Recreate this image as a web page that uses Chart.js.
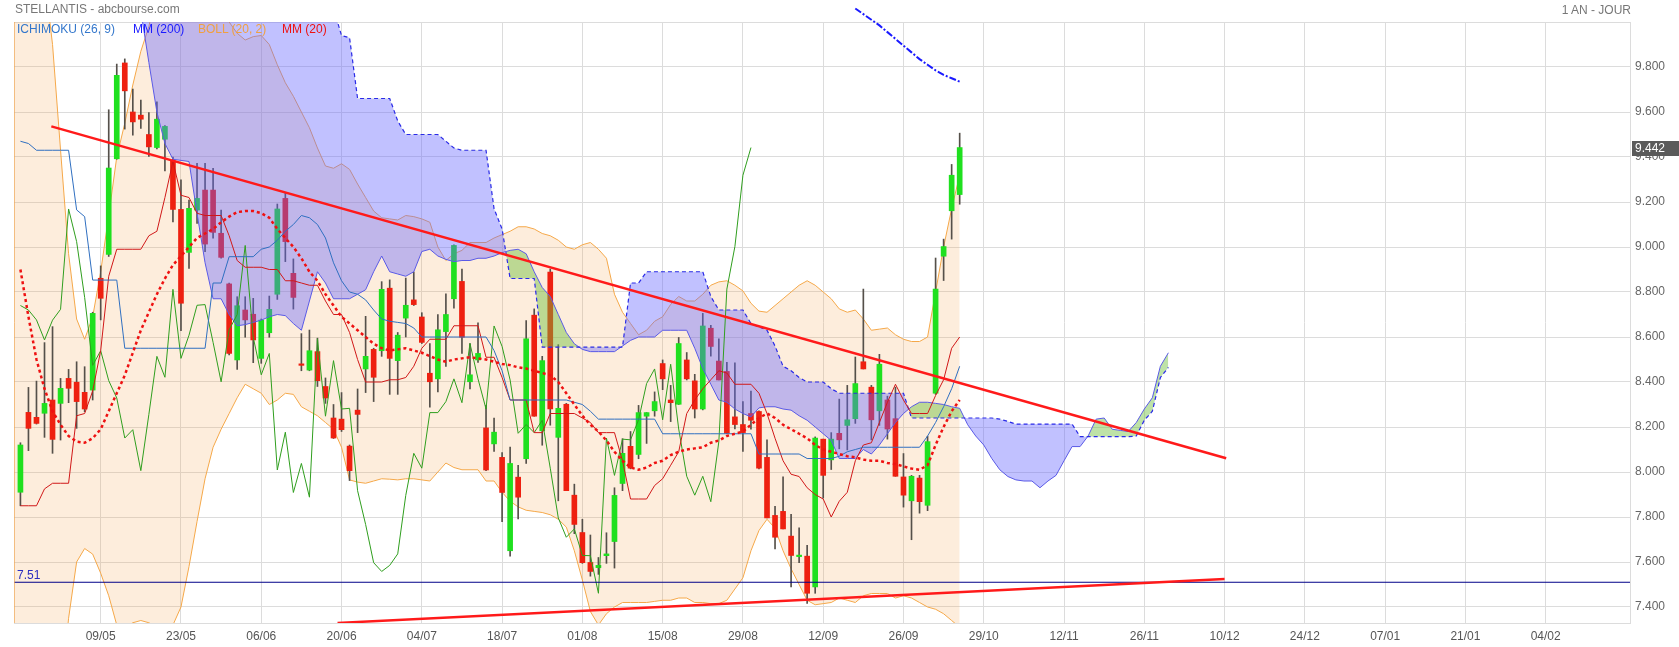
<!DOCTYPE html>
<html>
<head>
<meta charset="utf-8">
<title>STELLANTIS - abcbourse.com</title>
<script src="https://cdn.jsdelivr.net/npm/chart.js@4.4.1/dist/chart.umd.min.js"></script>
<style>
  html, body { margin: 0; padding: 0; background: #fff; }
  #wrap { position: relative; width: 1679px; height: 647px; font-family: 'Liberation Sans', Arial, sans-serif; font-size: 12px; }
  #wrap canvas { position: absolute; left: 0; top: 0; }
  .txt { position: absolute; white-space: nowrap; line-height: 14px; }
</style>
</head>
<body>
<div id="wrap">
  <canvas id="chart" width="1679" height="647"></canvas>
  <div class="txt" style="left:15px;top:2px;color:#777">STELLANTIS - abcbourse.com</div>
  <div class="txt" style="right:48px;top:3px;color:#777">1 AN - JOUR</div>
  <div class="txt" style="left:17px;top:22px;color:#3377cc">ICHIMOKU (26, 9)</div>
  <div class="txt" style="left:133px;top:22px;color:#1a1aff">MM (200)</div>
  <div class="txt" style="left:198px;top:22px;color:#f0a040">BOLL (20, 2)</div>
  <div class="txt" style="left:282px;top:22px;color:#ee1111">MM (20)</div>
</div>
<script>
// axis
const xTickPos    = [10, 20, 30, 40, 50, 60, 70, 80, 90, 100, 110, 120, 130, 140, 150, 160, 170, 180, 190];
const xTickLabels = ['09/05','23/05','06/06','20/06','04/07','18/07','01/08','15/08','29/08','12/09',
                     '26/09','29/10','12/11','26/11','10/12','24/12','07/01','21/01','04/02'];
const yTickValues = [7.4, 7.6, 7.8, 8.0, 8.2, 8.4, 8.6, 8.8, 9.0, 9.2, 9.4, 9.6, 9.8, 10.0];

// daily candles, index 0 = first session shown
const open = [
  7.91, 8.265, 8.243, 8.261, 8.32, 8.305, 8.416, 8.399, 8.354, 8.364,
  8.861, 8.967, 9.392, 9.818, 9.60, 9.586, 9.50, 9.442, 9.479, 9.383,
  9.167, 8.976, 9.164, 9.253, 9.253, 9.061, 8.836, 8.498, 8.72, 8.701,
  8.505, 8.619, 8.79, 9.216, 8.883, 8.479, 8.453, 8.535, 8.38, 8.24,
  8.235, 8.115, 8.275, 8.458, 8.545, 8.539, 8.817, 8.495, 8.684, 8.765,
  8.689, 8.439, 8.414, 8.624, 8.77, 8.847, 8.401, 8.498, 8.196, 8.125,
  8.065, 7.65, 7.977, 8.059, 8.697, 8.183, 8.889, 8.154, 8.301, 7.897,
  7.731, 7.598, 7.575, 7.628, 7.691, 7.949, 8.114, 8.078, 8.248, 8.272,
  8.482, 8.32, 8.301, 8.498, 8.405, 8.28, 8.639, 8.493, 8.447, 8.245,
  8.211, 8.26, 8.269, 8.065, 7.807, 7.825, 7.715, 7.624, 7.626, 7.489,
  8.146, 8.054, 8.172, 8.207, 8.237, 8.49, 8.377, 8.272, 8.32, 8.237,
  7.978, 7.872, 7.973, 7.852, 8.35, 8.959, 9.161, 9.233
];
const high = [
  8.13, 8.376, 8.404, 8.575, 8.646, 8.416, 8.456, 8.49, 8.468, 8.71,
  8.916, 9.61, 9.813, 9.836, 9.702, 9.653, 9.597, 9.645, 9.54, 9.40,
  9.298, 9.209, 9.372, 9.372, 9.35, 9.164, 8.84, 8.779, 8.779, 8.772,
  8.68, 8.782, 9.191, 9.241, 8.947, 8.615, 8.631, 8.595, 8.418, 8.30,
  8.353, 8.12, 8.369, 8.692, 8.55, 8.846, 8.854, 8.62, 8.862, 8.889,
  8.708, 8.571, 8.70, 8.792, 9.01, 8.902, 8.571, 8.663, 8.296, 8.24,
  8.086, 8.111, 8.03, 8.673, 8.725, 8.514, 8.902, 8.566, 8.305, 7.946,
  7.79, 7.72, 7.62, 7.73, 7.93, 8.148, 8.18, 8.296, 8.264, 8.356,
  8.498, 8.385, 8.598, 8.531, 8.434, 8.705, 8.652, 8.592, 8.487, 8.485,
  8.313, 8.36, 8.272, 8.143, 7.847, 7.978, 7.812, 7.752, 7.674, 8.156,
  8.146, 8.175, 8.324, 8.385, 8.511, 8.813, 8.385, 8.523, 8.337, 8.377,
  8.082, 7.985, 7.985, 8.159, 8.951, 9.035, 9.367, 9.506
];
const low = [
  7.85, 8.095, 8.213, 8.154, 8.083, 8.142, 8.308, 8.194, 8.268, 8.32,
  8.676, 8.958, 9.39, 9.524, 9.497, 9.527, 9.403, 9.436, 9.338, 9.112,
  8.628, 8.905, 9.105, 8.979, 9.039, 8.95, 8.52, 8.456, 8.599, 8.486,
  8.483, 8.599, 8.767, 8.935, 8.724, 8.45, 8.45, 8.38, 8.305, 8.149,
  8.18, 7.962, 8.175, 8.353, 8.313, 8.514, 8.345, 8.345, 8.60, 8.74,
  8.571, 8.288, 8.356, 8.469, 8.728, 8.527, 8.369, 8.487, 8.006, 8.091,
  7.779, 7.626, 7.791, 8.038, 8.248, 8.119, 8.208, 7.872, 7.917, 7.726,
  7.594, 7.537, 7.545, 7.594, 7.573, 7.917, 8.014, 8.059, 8.127, 8.248,
  8.366, 8.224, 8.30, 8.409, 8.24, 8.276, 8.515, 8.409, 8.172, 8.191,
  8.091, 8.19, 8.014, 7.796, 7.658, 7.747, 7.489, 7.597, 7.416, 7.461,
  7.884, 8.011, 8.103, 8.098, 8.216, 8.458, 8.143, 8.207, 8.146, 7.981,
  7.844, 7.699, 7.817, 7.828, 8.345, 8.851, 9.035, 9.19
];
const close = [
  8.12, 8.194, 8.216, 8.305, 8.145, 8.372, 8.372, 8.313, 8.28, 8.705,
  8.772, 9.351, 9.763, 9.694, 9.556, 9.568, 9.445, 9.568, 9.536, 9.167,
  8.75, 9.172, 9.216, 9.013, 9.065, 8.954, 8.527, 8.739, 8.676, 8.587,
  8.675, 8.723, 9.169, 9.024, 8.776, 8.474, 8.539, 8.406, 8.329, 8.151,
  8.188, 8.006, 8.256, 8.514, 8.421, 8.812, 8.505, 8.608, 8.741, 8.744,
  8.576, 8.401, 8.632, 8.70, 9.007, 8.599, 8.432, 8.527, 8.009, 8.177,
  7.909, 8.038, 7.888, 8.592, 8.248, 8.495, 8.28, 8.283, 7.917, 7.767,
  7.597, 7.558, 7.585, 7.636, 7.896, 8.083, 8.017, 8.264, 8.264, 8.313,
  8.414, 8.308, 8.571, 8.414, 8.28, 8.649, 8.558, 8.409, 8.172, 8.211,
  8.175, 8.23, 8.017, 7.796, 7.71, 7.747, 7.629, 7.628, 7.461, 8.151,
  7.985, 8.146, 8.143, 8.232, 8.393, 8.458, 8.232, 8.479, 8.191, 7.981,
  7.897, 7.981, 7.868, 8.135, 8.813, 9.002, 9.319, 9.442
];

// Bollinger (20, 2), starts one slot left of the first candle
const bbStart = -1;
const bbUpper = [
  11.0,
  10.9, 10.7, 10.5, 10.2, 9.90, 9.43, 8.97, 8.68, 8.59, 8.69,
  8.89, 9.14, 9.40, 9.55, 9.72, 9.87, 9.98, 10.15, 10.21, 10.24,
  10.24, 10.21, 10.16, 10.10, 10.05, 10.03, 10.0, 9.95, 9.92, 9.935,
  9.94, 9.90, 9.81, 9.73, 9.67, 9.60, 9.53, 9.44, 9.36, 9.35,
  9.37, 9.345, 9.28, 9.22, 9.16, 9.13, 9.125, 9.12, 9.14, 9.135,
  9.125, 9.11, 9.0, 8.94, 8.97, 8.985, 9.02, 9.02, 9.02, 9.04,
  9.055, 9.07, 9.09, 9.09, 9.08, 9.06, 9.05, 9.03, 9.0, 8.99,
  9.01, 9.02, 8.99, 8.95, 8.79, 8.71, 8.66, 8.61, 8.63, 8.67,
  8.69, 8.745, 8.78, 8.76, 8.76, 8.79, 8.83, 8.845, 8.85, 8.83,
  8.805, 8.75, 8.715, 8.71, 8.74, 8.77, 8.80, 8.83, 8.85, 8.83,
  8.80, 8.77, 8.725, 8.71, 8.72, 8.68, 8.63, 8.635, 8.64, 8.61,
  8.59, 8.58, 8.58, 8.60, 8.80, 9.00, 9.17, 9.32
];
const bbLower = [
  6.0,
  6.3, 6.5, 6.6, 6.5, 6.64, 6.99, 7.35, 7.60, 7.66, 7.635,
  7.55, 7.45, 7.32, 7.31, 7.33, 7.34, 7.33, 7.31, 7.30, 7.32,
  7.40, 7.58, 7.78, 7.97, 8.11, 8.19, 8.26, 8.33, 8.39, 8.37,
  8.35, 8.30, 8.32, 8.35, 8.345, 8.29, 8.27, 8.25, 8.22, 8.19,
  8.11, 7.965, 7.955, 7.95, 7.96, 7.97, 7.968, 7.965, 7.97, 7.97,
  7.965, 7.96, 8.0, 8.04, 8.02, 8.01, 8.01, 8.01, 7.96, 7.96,
  7.91, 7.87, 7.845, 7.83, 7.825, 7.82, 7.81, 7.79, 7.755, 7.65,
  7.52, 7.38, 7.32, 7.37, 7.40, 7.42, 7.42, 7.42, 7.42, 7.425,
  7.43, 7.43, 7.44, 7.44, 7.42, 7.42, 7.415, 7.415, 7.43, 7.48,
  7.53, 7.65, 7.74, 7.79, 7.75, 7.65, 7.57, 7.50, 7.43, 7.41,
  7.415, 7.42, 7.44, 7.43, 7.42, 7.45, 7.46, 7.46, 7.46, 7.44,
  7.45, 7.44, 7.42, 7.40, 7.39, 7.37, 7.34, 7.31
];

// MM (20)
const mm20 = [
  8.90, 8.69, 8.50, 8.37, 8.27, 8.21, 8.16, 8.135, 8.13, 8.15,
  8.19, 8.27, 8.35, 8.43, 8.53, 8.63, 8.71, 8.79, 8.86, 8.92,
  8.96, 9.0, 9.04, 9.06, 9.08, 9.11, 9.135, 9.155, 9.16, 9.16,
  9.15, 9.13, 9.08, 9.04, 9.0, 8.95, 8.89, 8.85, 8.79, 8.74,
  8.69, 8.66, 8.63, 8.60, 8.57, 8.55, 8.54, 8.545, 8.55, 8.54,
  8.53, 8.515, 8.50, 8.49, 8.50, 8.505, 8.51, 8.505, 8.50, 8.49,
  8.48, 8.475, 8.465, 8.46, 8.45, 8.44, 8.43, 8.40, 8.35, 8.30,
  8.25, 8.21, 8.18, 8.14, 8.09, 8.05, 8.02, 8.01, 8.02, 8.04,
  8.05, 8.075, 8.09, 8.10, 8.105, 8.11, 8.13, 8.14, 8.16, 8.17,
  8.18, 8.21, 8.24, 8.26, 8.24, 8.21, 8.19, 8.17, 8.15, 8.12,
  8.10, 8.09, 8.08, 8.07, 8.065, 8.055, 8.05, 8.05, 8.04, 8.035,
  8.025, 8.015, 8.01, 8.03, 8.12, 8.20, 8.27, 8.32
];

// MM (200), only visible over the last sessions
const mm200Start = 104;
const mm200 = [10.06, 10.035, 10.01, 9.985, 9.955, 9.925, 9.895, 9.865, 9.835, 9.81, 9.785, 9.765, 9.75, 9.735];

// Ichimoku (26, 9)
const tenkan = [
  7.85, 7.85, 7.85, 7.925, 7.95, 7.95, 7.95, 8.25, 8.26, 8.36,
  8.54, 8.87, 8.99, 8.99, 8.99, 8.99, 9.05, 9.07, 9.22, 9.38,
  9.23, 9.22, 9.15, 9.14, 9.14, 9.14, 9.05, 8.94, 8.91, 8.91,
  8.91, 8.90, 8.90, 8.85, 8.85, 8.84, 8.83, 8.83, 8.76, 8.70,
  8.70, 8.62, 8.50, 8.40, 8.40, 8.40, 8.41, 8.41, 8.42, 8.47,
  8.55, 8.59, 8.59, 8.59, 8.65, 8.65, 8.65, 8.65, 8.51, 8.51,
  8.42, 8.32, 8.32, 8.32, 8.175, 8.175, 8.26, 8.26, 8.26, 8.26,
  8.24, 8.22, 8.175, 8.175, 8.175, 8.05, 7.88, 7.88, 7.88, 7.94,
  7.97, 8.03, 8.09, 8.26, 8.32, 8.37, 8.41, 8.45, 8.44, 8.39,
  8.39, 8.39, 8.35, 8.26, 8.15, 8.05, 7.99, 7.98, 7.93, 7.90,
  7.88, 7.80, 7.87, 7.91, 8.05, 8.12, 8.13, 8.22, 8.31, 8.39,
  8.32, 8.26, 8.26, 8.26, 8.34, 8.41, 8.55, 8.60
];
const kijun = [
  9.47, 9.46, 9.43, 9.43, 9.43, 9.43, 9.43, 9.165, 9.135, 8.853,
  8.853, 8.853, 8.853, 8.55, 8.55, 8.55, 8.55, 8.55, 8.55, 8.55,
  8.55, 8.55, 8.55, 8.55, 8.84, 8.84, 8.957, 8.957, 8.957, 8.957,
  8.99, 9.0, 9.03, 9.07, 9.10, 9.14, 9.13, 9.10, 9.04, 8.93,
  8.85, 8.80, 8.79, 8.765, 8.72, 8.68, 8.67, 8.665, 8.66, 8.64,
  8.60, 8.60, 8.60, 8.60, 8.60, 8.60, 8.60, 8.60, 8.60, 8.54,
  8.45, 8.32, 8.32, 8.32, 8.32, 8.32, 8.32, 8.32, 8.32, 8.31,
  8.30, 8.27, 8.235, 8.235, 8.235, 8.235, 8.235, 8.235, 8.235, 8.235,
  8.17, 8.17, 8.17, 8.17, 8.17, 8.17, 8.17, 8.17, 8.17, 8.17,
  8.17, 8.17, 8.08, 8.08, 8.08, 8.08, 8.08, 8.08, 8.06, 8.06,
  8.06, 8.06, 8.07, 8.09, 8.10, 8.11, 8.11, 8.11, 8.11, 8.11,
  8.11, 8.11, 8.11, 8.16, 8.22, 8.29, 8.37, 8.47
];
const chikou = [
  8.74, 8.72, 8.676, 8.587, 8.675, 8.723, 9.169, 9.024, 8.776, 8.474,
  8.539, 8.406, 8.329, 8.151, 8.188, 8.006, 8.256, 8.514, 8.421, 8.812,
  8.505, 8.608, 8.741, 8.744, 8.576, 8.401, 8.632, 8.70, 9.007, 8.599,
  8.432, 8.527, 8.009, 8.177, 7.909, 8.038, 7.888, 8.592, 8.248, 8.495,
  8.28, 8.283, 7.917, 7.767, 7.597, 7.558, 7.585, 7.636, 7.896, 8.083,
  8.017, 8.264, 8.264, 8.313, 8.414, 8.308, 8.571, 8.414, 8.28, 8.649,
  8.558, 8.409, 8.172, 8.211, 8.175, 8.23, 8.017, 7.796, 7.71, 7.747,
  7.629, 7.628, 7.461, 8.151, 7.985, 8.146, 8.143, 8.232, 8.393, 8.458,
  8.232, 8.479, 8.191, 7.981, 7.897, 7.981, 7.868, 8.135, 8.813, 9.002,
  9.319, 9.442
];
const senkouA = [
  10.6, 10.6, 10.55, 10.5, 10.5, 10.45, 10.45, 10.4, 10.4, 10.35,
  10.3, 10.3, 10.25, 10.2, 10.12, 10.05, 9.82, 9.60, 9.46, 9.39,
  9.385, 9.38, 9.15, 8.93, 8.77, 8.77, 8.70, 8.65, 8.655, 8.665,
  8.675, 8.69, 8.70, 8.695, 8.66, 8.63, 8.76, 8.89, 8.84, 8.77,
  8.77, 8.77, 8.79, 8.81, 8.89, 8.96, 8.89, 8.88, 8.87, 8.89,
  8.98, 8.99, 8.96, 8.945, 8.935, 8.94, 8.94, 8.95, 8.95, 8.96,
  8.975, 8.985, 8.99, 8.97, 8.89, 8.82, 8.78, 8.70, 8.62, 8.57,
  8.545, 8.535, 8.535, 8.535, 8.535, 8.56, 8.585, 8.60, 8.60, 8.60,
  8.63, 8.63, 8.63, 8.63, 8.55, 8.46, 8.39, 8.32, 8.31, 8.28,
  8.26, 8.245, 8.285, 8.29, 8.29, 8.28, 8.275, 8.25, 8.23, 8.20,
  8.17, 8.14, 8.06, 8.06, 8.06, 8.10, 8.08, 8.12, 8.17, 8.22,
  8.26, 8.29, 8.31, 8.31, 8.305, 8.30, 8.29, 8.283, 8.21, 8.16,
  8.12, 8.06, 8.01, 7.98, 7.965, 7.96, 7.96, 7.93, 7.96, 7.985,
  8.05, 8.113, 8.113, 8.16, 8.235, 8.24, 8.19, 8.185, 8.18, 8.22,
  8.28, 8.33, 8.47, 8.53
];
const senkouB = [
  10.6, 10.6, 10.6, 10.6, 10.6, 10.6, 10.6, 10.6, 10.6, 10.6,
  10.6, 10.6, 10.6, 10.6, 10.6, 10.6, 10.6, 10.6, 10.6, 10.6,
  10.6, 10.6, 10.5, 10.5, 10.5, 10.5, 10.5, 10.5, 10.5, 10.5,
  10.4, 10.4, 10.4, 10.4, 10.35, 10.35, 10.3, 10.3, 10.2, 10.06,
  9.94, 9.93, 9.66, 9.66, 9.66, 9.66, 9.66, 9.56, 9.50, 9.50,
  9.50, 9.50, 9.50, 9.47, 9.44, 9.43, 9.43, 9.43, 9.43, 9.17,
  9.08, 8.86, 8.86, 8.86, 8.86, 8.555, 8.555, 8.555, 8.555, 8.555,
  8.555, 8.555, 8.555, 8.555, 8.555, 8.555, 8.84, 8.84, 8.89, 8.89,
  8.89, 8.89, 8.89, 8.89, 8.89, 8.89, 8.78, 8.72, 8.72, 8.72,
  8.72, 8.66, 8.645, 8.63, 8.56, 8.47, 8.45, 8.42, 8.40, 8.40,
  8.40, 8.37, 8.35, 8.35, 8.35, 8.35, 8.35, 8.35, 8.35, 8.35,
  8.35, 8.24, 8.24, 8.24, 8.24, 8.24, 8.24, 8.24, 8.24, 8.24,
  8.24, 8.24, 8.235, 8.225, 8.213, 8.213, 8.213, 8.213, 8.213, 8.213,
  8.213, 8.213, 8.157, 8.157, 8.157, 8.157, 8.157, 8.157, 8.157, 8.16,
  8.23, 8.27, 8.42, 8.465
];

// hand-drawn trend lines and support
const trendDownX = [3.85, 150.2];
const trendDownY = [9.536, 8.061];
const trendUpX   = [39.5, 150];
const trendUpY   = [7.329, 7.524];
const supportLevel = 7.51;
const lastPrice = 9.442;

const X_MIN = -0.8, X_MAX = 200.5;
const FONT = "'Liberation Sans', Arial, sans-serif";

function series(values, start) {
  return values.map((v, i) => ({ x: start + i, y: v }));
}
function pairs(xs, ys) {
  return xs.map((x, i) => ({ x, y: ys[i] }));
}

function lineDs(data, color, extra) {
  return Object.assign({
    type: 'line', data, borderColor: color, borderWidth: 1,
    pointRadius: 0, fill: false, tension: 0,
  }, extra || {});
}

const candleColors = close.map((c, i) => c >= open[i] ? '#1fe01f' : '#ee2010');

// right-side tag with the last close + support label + left border
const extras = {
  id: 'extras',
  afterDraw(chart) {
    const { ctx, chartArea: a, scales: { y } } = chart;
    ctx.save();
    ctx.strokeStyle = 'rgba(240,170,90,0.7)';
    ctx.lineWidth = 1;
    ctx.beginPath();
    ctx.moveTo(a.left + 0.5, a.top);
    ctx.lineTo(a.left + 0.5, a.bottom);
    ctx.stroke();

    ctx.font = '12px ' + FONT;
    ctx.textBaseline = 'bottom';
    ctx.fillStyle = '#2b2bc0';
    ctx.fillText(String(supportLevel), a.left + 3, y.getPixelForValue(supportLevel) - 1);

    const py = y.getPixelForValue(lastPrice);
    ctx.fillStyle = '#5a5a5a';
    ctx.fillRect(a.right + 2, Math.round(py) - 7, chart.width - a.right - 2, 15);
    ctx.fillStyle = '#fff';
    ctx.textBaseline = 'middle';
    ctx.fillText(lastPrice.toFixed(3), a.right + 5, Math.round(py) + 1);
    ctx.restore();
  }
};

Chart.defaults.font.family = FONT;
Chart.defaults.font.size = 12;

const candleIdx = open.map((_, i) => i);

new Chart(document.getElementById('chart').getContext('2d'), {
  type: 'line',
  data: {
    datasets: [
      // 0,1 bollinger band
      lineDs(series(bbUpper, bbStart), '#f5a849', { fill: 1, backgroundColor: 'rgba(245,165,80,0.2)', order: 10 }),
      lineDs(series(bbLower, bbStart), '#f5a849', { order: 9 }),
      // 2,3 candles
      {
        type: 'bar', data: candleIdx.map(i => ({ x: i, y: [low[i], high[i]] })),
        backgroundColor: '#55504a', barThickness: 1, grouped: false, order: 8,
      },
      {
        type: 'bar', data: candleIdx.map(i => ({ x: i, y: [open[i], close[i]] })),
        backgroundColor: candleColors, barThickness: 5, minBarLength: 1.5, grouped: false, order: 7,
      },
      // 4,5 kumo
      lineDs(series(senkouA, 0), '#5a5ae6', {
        fill: { target: 5, above: 'rgba(110,190,60,0.45)', below: 'rgba(100,100,255,0.4)' }, order: 6,
      }),
      lineDs(series(senkouB, 0), '#2a2ae8', { borderDash: [4, 3], borderWidth: 1.2, order: 5 }),
      // 6-8 kijun, tenkan, chikou
      lineDs(series(kijun, 0), '#2f6fc0', { order: 4 }),
      lineDs(series(tenkan, 0), '#d01818', { order: 4 }),
      lineDs(series(chikou, 0), '#2f9e1e', { order: 4 }),
      // 9,10 moving averages
      lineDs(series(mm20, 0), '#ee1111', { borderWidth: 2.5, borderDash: [3, 3], order: 3 }),
      lineDs(series(mm200, mm200Start), '#1a1aff', { borderWidth: 2, borderDash: [7, 2, 2, 2], clip: false, order: 3 }),
      // 11-13 drawings
      lineDs(pairs(trendDownX, trendDownY), '#ff1a1a', { borderWidth: 2.5, order: 2 }),
      lineDs(pairs(trendUpX, trendUpY), '#ff1a1a', { borderWidth: 2.5, order: 2 }),
      lineDs(pairs([X_MIN, X_MAX], [supportLevel, supportLevel]), '#000088', { order: 2 }),
    ],
  },
  options: {
    responsive: false,
    animation: false,
    events: [],
    layout: { padding: { left: 14, top: 22, right: 0, bottom: 0 } },
    plugins: { legend: { display: false }, tooltip: { enabled: false } },
    scales: {
      x: {
        type: 'linear', min: X_MIN, max: X_MAX, offset: false,
        afterBuildTicks: s => { s.ticks = xTickPos.map(v => ({ value: v })); },
        afterFit: s => { s.height = 24; s.paddingLeft = 0; s.paddingRight = 0; },
        grid: { color: '#dcdcdc', drawTicks: false, offset: false },
        border: { color: '#dcdcdc' },
        ticks: {
          padding: 6, color: '#555', maxRotation: 0, autoSkip: false,
          callback: v => xTickLabels[xTickPos.indexOf(v)] || '',
        },
      },
      y: {
        position: 'right', min: 10 - 601 / 225, max: 10,
        afterBuildTicks: s => { s.ticks = yTickValues.map(v => ({ value: v })); },
        afterFit: s => { s.width = 49; s.paddingTop = 0; s.paddingBottom = 0; },
        grid: { color: '#dcdcdc', drawTicks: false },
        border: { color: '#dcdcdc' },
        ticks: {
          padding: 5, color: '#666',
          callback: v => v >= 9.99 ? '' : v.toFixed(3),
        },
      },
    },
  },
  plugins: [extras],
});
</script>
</body>
</html>
